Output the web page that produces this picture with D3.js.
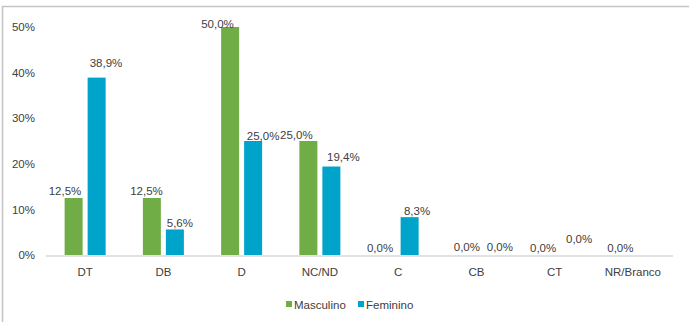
<!DOCTYPE html>
<html>
<head>
<meta charset="utf-8">
<script src="https://cdn.jsdelivr.net/npm/d3@7"></script>
<style>
  html, body { margin: 0; padding: 0; background: #fff; }
  svg { display: block; font-family: "Liberation Sans", Arial, sans-serif; }
</style>
</head>
<body>
<svg id="chart" width="689" height="322"></svg>
<script>
const categories = ["DT", "DB", "D", "NC/ND", "C", "CB", "CT", "NR/Branco"];
const masculino = [12.5, 12.5, 50.0, 25.0, 0.0, 0.0, 0.0, 0.0];
const feminino  = [38.9, 5.6, 25.0, 19.4, 8.3, 0.0, 0.0, 0.0];
const seriesNames = ["Masculino", "Feminino"];
const yTicks = [0, 10, 20, 30, 40, 50];

// label placement tweaks (style only)
const labelAdjust = {
  Masculino: [[-8.6,-3],[-5.4,-3],[-12.6,1],[-12,-2],[-6.6,-3],[2,-4],[0,-3],[-1,-3]],
  Feminino:  [[9.4,-11],[5,-2.5],[10,-1],[12,-5.5],[7.4,-2],[12,-4],[13,-12],null]
};

const colors = { Masculino: "#70ad47", Feminino: "#00a3c9" };
const svg = d3.select("#chart");

// frame
svg.append("line").attr("x1", 2).attr("x2", 689).attr("y1", 6.5).attr("y2", 6.5)
  .attr("stroke", "#c4c4c4").attr("stroke-width", 1.5);
svg.append("line").attr("x1", 2.5).attr("x2", 2.5).attr("y1", 6).attr("y2", 322)
  .attr("stroke", "#c4c4c4").attr("stroke-width", 1.5);

const x = d3.scaleBand().domain(categories).range([46, 672]);
const y = d3.scaleLinear().domain([0, 50]).range([255, 27]);
const barW = 18, gap = 5;
const xs = d3.scaleOrdinal().domain(seriesNames).range([-(barW + gap) / 2, (barW + gap) / 2]);

// y axis labels
const yAxis = d3.axisLeft(y).tickValues(yTicks).tickFormat(d => d + "%").tickSize(0).tickPadding(0);
const gy = svg.append("g").attr("transform", "translate(35,0)").call(yAxis);
gy.select(".domain").remove();
gy.selectAll("text").attr("font-size", "11.5px").attr("fill", "#404040")
  .attr("font-family", "Liberation Sans, Arial, sans-serif");

const data = seriesNames.map((s, i) => ({
  name: s,
  values: (i === 0 ? masculino : feminino).map((v, j) => ({ cat: categories[j], v, j }))
}));

data.forEach(s => {
  const g = svg.append("g");
  g.selectAll("rect").data(s.values.filter(d => d.v > 0)).join("rect")
    .attr("x", d => x(d.cat) + x.bandwidth() / 2 + xs(s.name) - barW / 2)
    .attr("width", barW)
    .attr("y", d => y(d.v))
    .attr("height", d => y(0) - y(d.v))
    .attr("fill", colors[s.name]);
  g.selectAll("text").data(s.values.filter(d => labelAdjust[s.name][d.j])).join("text")
    .attr("x", d => x(d.cat) + x.bandwidth() / 2 + xs(s.name) + labelAdjust[s.name][d.j][0])
    .attr("y", d => y(d.v) + labelAdjust[s.name][d.j][1])
    .attr("text-anchor", "middle")
    .attr("font-size", "11.5px")
    .attr("fill", "#404040")
    .text(d => d.v.toFixed(1).replace(".", ",") + "%");
});

// x axis
const xAxis = d3.axisBottom(x).tickSize(0).tickPadding(0);
const gx = svg.append("g").attr("transform", "translate(0,256)").call(xAxis);
gx.select(".domain").attr("stroke", "#d9d9d9").attr("stroke-width", 1.5)
  .attr("d", "M46,0H673");
gx.selectAll("text").attr("font-size", "11.5px").attr("fill", "#404040")
  .attr("dy", "0").attr("y", 20)
  .attr("font-family", "Liberation Sans, Arial, sans-serif");

// legend
const legendX = [286, 358];
const lg = svg.append("g");
seriesNames.forEach((s, i) => {
  lg.append("rect").attr("x", legendX[i]).attr("y", 301).attr("width", 6).attr("height", 6)
    .attr("fill", colors[s]);
  lg.append("text").attr("x", legendX[i] + 8).attr("y", 308.5)
    .attr("font-size", "11.5px").attr("fill", "#404040").text(s);
});
</script>
</body>
</html>
